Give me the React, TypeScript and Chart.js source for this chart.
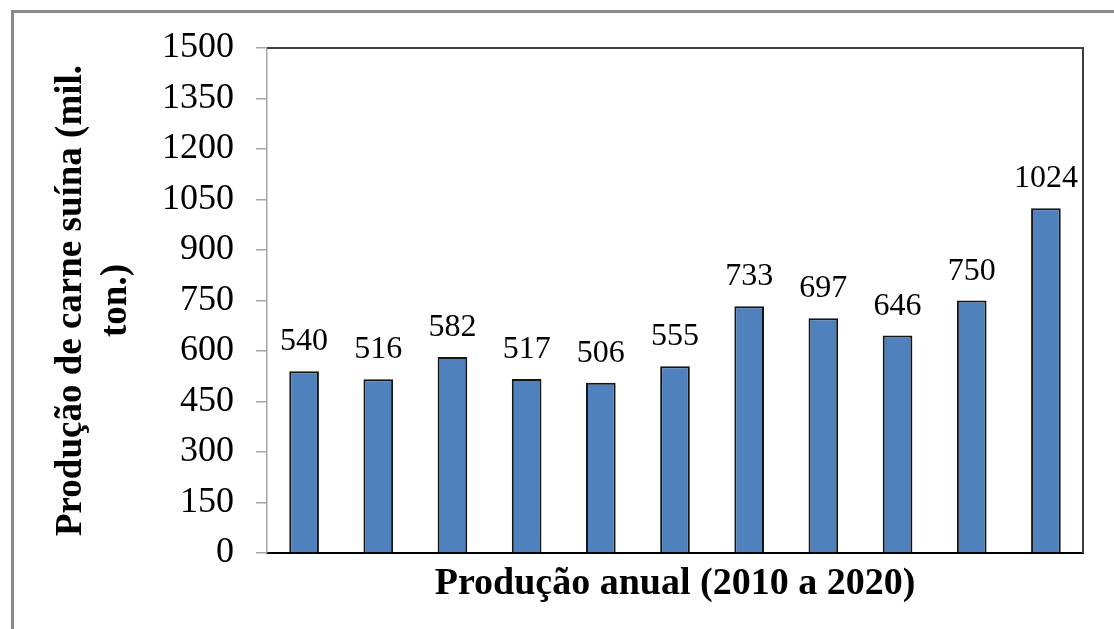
import React, { useEffect, useRef } from "react";
import { Chart, registerables } from "chart.js";

Chart.register(...registerables);

// Annual pork production, 2010–2020 (thousand tonnes)
const years = ["2010", "2011", "2012", "2013", "2014", "2015", "2016", "2017", "2018", "2019", "2020"];
const production = [540, 516, 582, 517, 506, 555, 733, 697, 646, 750, 1024];
const yMin = 0;
const yMax = 1500;
const yStep = 150;

const yTitle = ["Produção de carne suína (mil.", "ton.)"];
const xTitle = "Produção anual (2010 a 2020)";

const SERIF = "'Liberation Serif', 'Times New Roman', serif";

// Gray frame around the whole figure
const outerFrame = {
  id: "outerFrame",
  beforeDraw(chart: any) {
    const { ctx } = chart;
    ctx.save();
    ctx.strokeStyle = "#8a8a8a";
    ctx.lineWidth = 3;
    ctx.strokeRect(12.5, 11.5, chart.width + 40, chart.height + 40);
    ctx.restore();
  },
};

// Dark top and right edges of the plot area
const plotFrame = {
  id: "plotFrame",
  afterDraw(chart: any) {
    const { ctx, chartArea } = chart;
    ctx.save();
    ctx.strokeStyle = "#404040";
    ctx.lineWidth = 2;
    ctx.beginPath();
    ctx.moveTo(chartArea.left, chartArea.top);
    ctx.lineTo(chartArea.right, chartArea.top);
    ctx.lineTo(chartArea.right, chartArea.bottom);
    ctx.stroke();
    ctx.restore();
  },
};

// Value printed above each bar
const valueLabels = {
  id: "valueLabels",
  afterDatasetsDraw(chart: any) {
    const { ctx } = chart;
    const meta = chart.getDatasetMeta(0);
    const data = chart.data.datasets[0].data;
    ctx.save();
    ctx.fillStyle = "#000";
    ctx.font = `32px ${SERIF}`;
    ctx.textAlign = "center";
    ctx.textBaseline = "alphabetic";
    meta.data.forEach((bar: any, i: number) => {
      ctx.fillText(String(data[i]), bar.x, bar.y - 21);
    });
    ctx.restore();
  },
};

export default function App() {
  const canvasRef = useRef<HTMLCanvasElement | null>(null);

  useEffect(() => {
    if (!canvasRef.current) return;
    const chart = new Chart(canvasRef.current, {
      type: "bar",
      data: {
        labels: years,
        datasets: [
          {
            data: production,
            backgroundColor: "#4f81bd",
            borderColor: "#151515",
            borderWidth: 2,
            barPercentage: 0.4,
            categoryPercentage: 1,
          },
        ],
      },
      options: {
        animation: false,
        responsive: true,
        maintainAspectRatio: false,
        devicePixelRatio: 1,
        layout: { padding: { left: 0, top: 48, right: 31, bottom: 0 } },
        plugins: {
          legend: { display: false },
          tooltip: { enabled: false },
        },
        scales: {
          x: {
            grid: { display: false },
            ticks: { display: false },
            border: { display: true, color: "#000", width: 2 },
            title: {
              display: true,
              text: xTitle,
              color: "#000",
              font: { family: SERIF, size: 38, weight: "bold", lineHeight: 1.2 },
              padding: { top: 0, bottom: 22 },
            },
            afterFit(scale: any) {
              scale.height = 76;
            },
          },
          y: {
            min: yMin,
            max: yMax,
            ticks: {
              stepSize: yStep,
              color: "#000",
              padding: 22,
              font: { family: SERIF, size: 36 },
              callback: (value: any) => String(value),
            },
            grid: {
              drawOnChartArea: false,
              drawTicks: true,
              tickLength: 11,
              color: "#a6a6a6",
              lineWidth: 1.5,
            },
            border: { display: true, color: "#a6a6a6", width: 1.5 },
            title: {
              display: true,
              text: yTitle,
              color: "#000",
              font: { family: SERIF, size: 37, weight: "bold", lineHeight: 1.22 },
              padding: { top: 49, bottom: 0 },
            },
            afterFit(scale: any) {
              scale.width = 267;
            },
          },
        },
      },
      plugins: [outerFrame, valueLabels, plotFrame],
    });
    return () => chart.destroy();
  }, []);

  return (
    <div style={{ position: "absolute", left: 0, top: 0, width: 1114, height: 629, background: "#fff" }}>
      <canvas ref={canvasRef} />
    </div>
  );
}
